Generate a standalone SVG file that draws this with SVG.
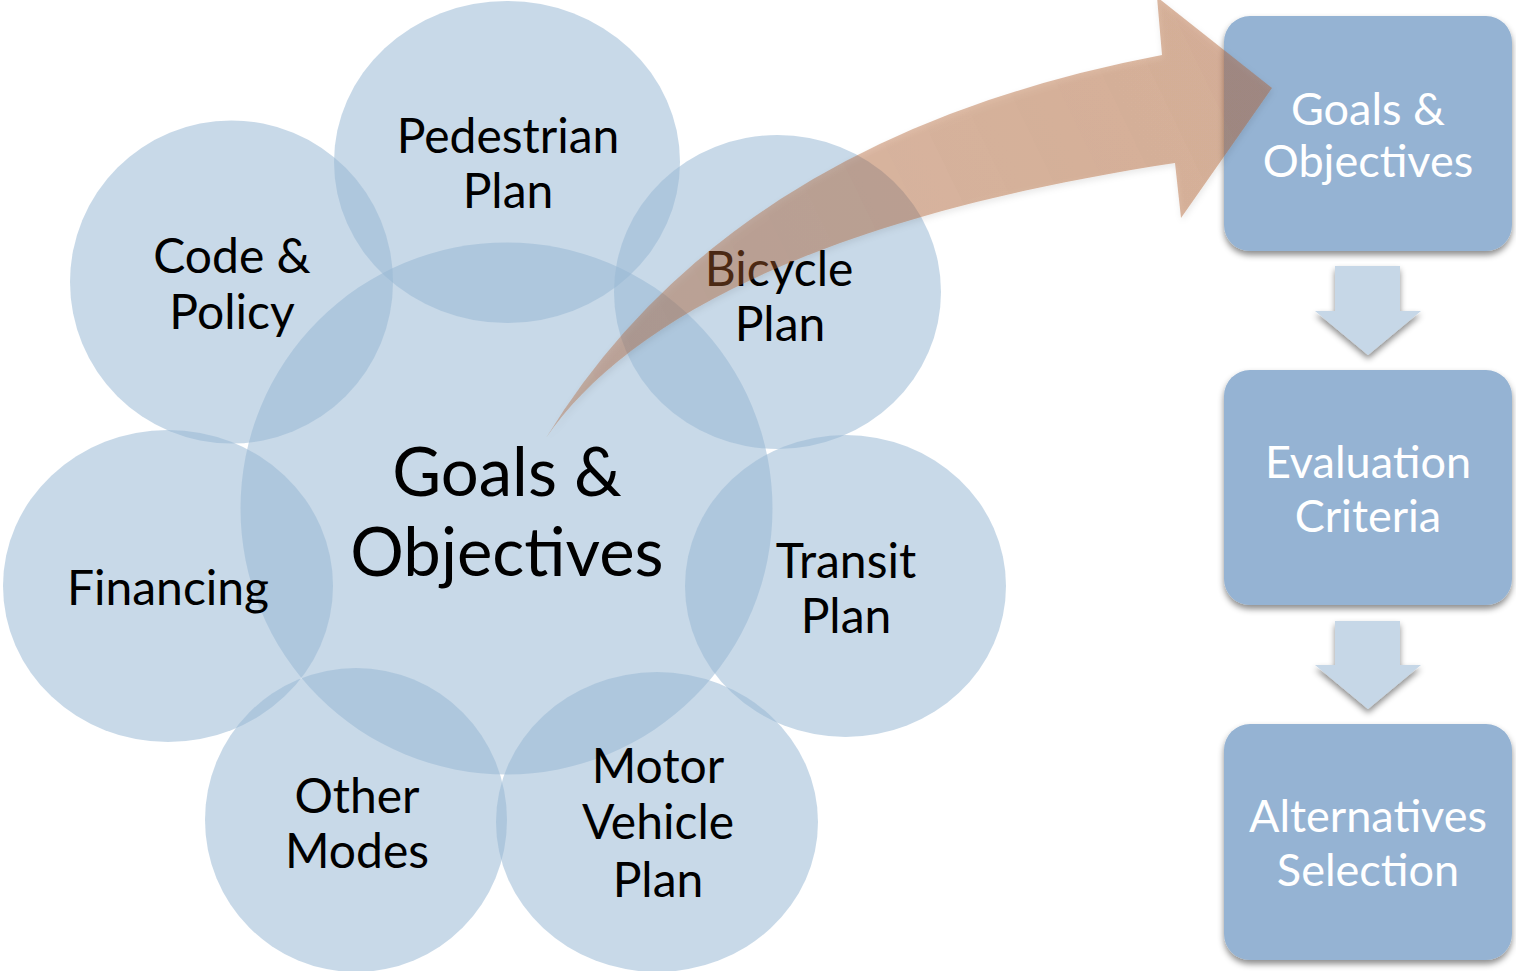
<svg xmlns="http://www.w3.org/2000/svg" width="1516" height="971" viewBox="0 0 1516 971">
<defs>
<filter id="sh" x="-10%" y="-10%" width="120%" height="130%">
<feDropShadow dx="0" dy="4" stdDeviation="3" flood-color="#000" flood-opacity="0.45"/>
</filter>
<filter id="ash" x="-10%" y="-10%" width="120%" height="130%">
<feDropShadow dx="1" dy="3" stdDeviation="3" flood-color="#000" flood-opacity="0.2"/>
</filter>
<linearGradient id="ag" x1="545" y1="440" x2="1272" y2="88" gradientUnits="userSpaceOnUse">
<stop offset="0" stop-color="#B06030" stop-opacity="0.38"/>
<stop offset="1" stop-color="#B06030" stop-opacity="0.45"/>
</linearGradient>
</defs>
<style>
.c{fill:#97B7D3;fill-opacity:0.53}
.t{font-family:Lato,"Liberation Sans",sans-serif;font-size:48px;fill:#000;text-anchor:middle}
.big{font-size:67px}
.b{fill:#95B3D3}
.w{font-family:Lato,"Liberation Sans",sans-serif;font-size:45px;fill:#fff;text-anchor:middle}
.da{fill:#C6D7E7}
</style>
<rect width="1516" height="971" fill="#fff"/>
<g id="center">
<circle class="c" cx="506.5" cy="508.5" r="266"/>
</g>
<g id="pedestrian">
<ellipse class="c" cx="507" cy="162" rx="173" ry="161"/>
</g>
<g id="code">
<circle class="c" cx="231.5" cy="282" r="161.5"/>
</g>
<g id="bicycle">
<ellipse class="c" cx="777.5" cy="292" rx="163.5" ry="157"/>
</g>
<g id="financing">
<ellipse class="c" cx="168" cy="586" rx="165" ry="156"/>
</g>
<g id="transit">
<ellipse class="c" cx="845.5" cy="586" rx="160.5" ry="151"/>
</g>
<g id="other">
<ellipse class="c" cx="356" cy="820" rx="151" ry="152"/>
</g>
<g id="motor">
<ellipse class="c" cx="657" cy="822" rx="161" ry="150"/>
</g>
<g id="labels">
<text class="t big" x="507" y="496">Goals &amp;</text>
<text class="t big" x="507" y="576">Objectives</text>
<text class="t" x="508" y="153">Pedestrian</text>
<text class="t" x="508" y="208">Plan</text>
<text class="t" x="232" y="273">Code &amp;</text>
<text class="t" x="232" y="329">Policy</text>
<text class="t" x="779" y="286">Bicycle</text>
<text class="t" x="780" y="341">Plan</text>
<text class="t" x="168" y="605">Financing</text>
<text class="t" x="846" y="578">Transit</text>
<text class="t" x="846" y="633">Plan</text>
<text class="t" x="357" y="813">Other</text>
<text class="t" x="357" y="868">Modes</text>
<text class="t" x="658" y="783">Motor</text>
<text class="t" x="658" y="839">Vehicle</text>
<text class="t" x="658" y="897">Plan</text>
</g>
<g id="box1">
<rect class="b" x="1224" y="16" width="288" height="235" rx="26" filter="url(#sh)"/>
<text class="w" x="1368" y="125">Goals &amp;</text>
<text class="w" x="1368" y="177">Objectives</text>
</g>
<g id="box2">
<rect class="b" x="1224" y="370" width="288" height="235" rx="26" filter="url(#sh)"/>
<text class="w" x="1368" y="478">Evaluation</text>
<text class="w" x="1368" y="532">Criteria</text>
</g>
<g id="box3">
<rect class="b" x="1224" y="724" width="288" height="236" rx="26" filter="url(#sh)"/>
<text class="w" x="1368" y="832">Alternatives</text>
<text class="w" x="1368" y="886">Selection</text>
</g>
<g id="connectors">
<path d="M546,438 Q730,137 1162,55 L1157,-3 L1272,88 L1181,218 L1175,163 C800,220 620,330 546,438 Z" fill="url(#ag)" filter="url(#ash)"/>
<path class="da" d="M1335,266 L1400,266 L1400,311 L1421,311 L1368,355 L1315,311 L1335,311 Z" filter="url(#sh)"/>
<path class="da" d="M1335,621 L1400,621 L1400,665 L1421,665 L1368,709 L1315,665 L1335,665 Z" filter="url(#sh)"/>
</g>
</svg>
